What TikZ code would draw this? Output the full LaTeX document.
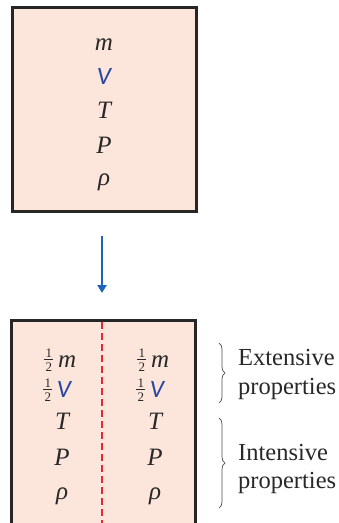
\documentclass[tikz,border=0pt]{standalone}
\usepackage{fontspec}
\setmainfont{Liberation Serif}
\newfontfamily\vfont{Carlito}
\usetikzlibrary{decorations.pathreplacing,arrows.meta}
\definecolor{boxfill}{RGB}{252,229,218}
\definecolor{arrowblue}{RGB}{30,100,190}
\definecolor{vblue}{RGB}{40,70,160}
\definecolor{dashred}{RGB}{230,40,50}
\definecolor{txt}{RGB}{40,40,40}
\tikzset{
  vessel/.style={draw=black!85, line width=3pt, fill=boxfill},
  prop/.style={font=\fontsize{25}{26}\selectfont\itshape, text=txt, inner sep=0pt, anchor=center},
  lbl/.style={font=\fontsize{24.5}{28}\selectfont, text=txt, anchor=base west, inner sep=0pt},
  brc/.style={draw=black!70, line width=0.7pt, decorate, decoration={brace, amplitude=6pt}},
  digit/.style={inner sep=0pt, font=\fontsize{13}{13}\selectfont\upshape}
}
\newcommand{\Vb}{{\vfont\itshape\textcolor{vblue}{V}}}
\newcommand{\half}{\tikz[baseline=0pt]{\node[digit] at (0pt,14pt) {1};\draw[line width=1pt] (-4.5pt,7.5pt) -- (4.5pt,7.5pt);\node[digit] at (0pt,0.5pt) {2};}}
\begin{document}
\begin{tikzpicture}[x=1pt,y=-1pt]
\useasboundingbox (0,0) rectangle (338,523);
\clip (0,0) rectangle (338,523);
% top vessel
\draw[vessel] (12,7) rectangle (196,211);
\node[prop] (m1) at (104,45) {m};
\node[prop] (v1) at (104,76) {\Vb};
\node[prop] (t1) at (104,110) {T};
\node[prop] (p1) at (104,145) {P};
\node[prop] (r1) at (104,182) {ρ};
% arrow
\coordinate (a1) at (102,236);
\coordinate (a2) at (102,293);
\draw[arrowblue, line width=2.2pt, -{Triangle[length=8pt,width=9pt]}] (a1) -- (a2);
% bottom vessel
\draw[vessel] (11,320) rectangle (195,540);
\coordinate (d1) at (102,322);
\coordinate (d2) at (102,530);
\draw[dashred, line width=1.2pt, dash pattern=on 7pt off 4pt] (d1) -- (d2);
\node[prop] (m2) at (60,360) {\half\,m};
\node[prop] (v2) at (57,390) {\half\,\Vb};
\node[prop] (t2) at (62,421) {T};
\node[prop] (p2) at (62,457) {P};
\node[prop] (r2) at (62,496) {ρ};
\node[prop] (m3) at (153,360) {\half\,m};
\node[prop] (v3) at (150,390) {\half\,\Vb};
\node[prop] (t3) at (155,421) {T};
\node[prop] (p3) at (155,457) {P};
\node[prop] (r3) at (155,496) {ρ};
% braces
\coordinate (b1) at (219,343);
\coordinate (b2) at (219,403);
\coordinate (b3) at (219,418);
\coordinate (b4) at (219,508);
\draw[brc] (b1) -- (b2);
\draw[brc] (b3) -- (b4);
\node[lbl] (ext1) at (238,365) {Extensive};
\node[lbl] (ext2) at (238,394) {properties};
\node[lbl] (int1) at (238,460) {Intensive};
\node[lbl] (int2) at (238,488) {properties};
\end{tikzpicture}
\end{document}
